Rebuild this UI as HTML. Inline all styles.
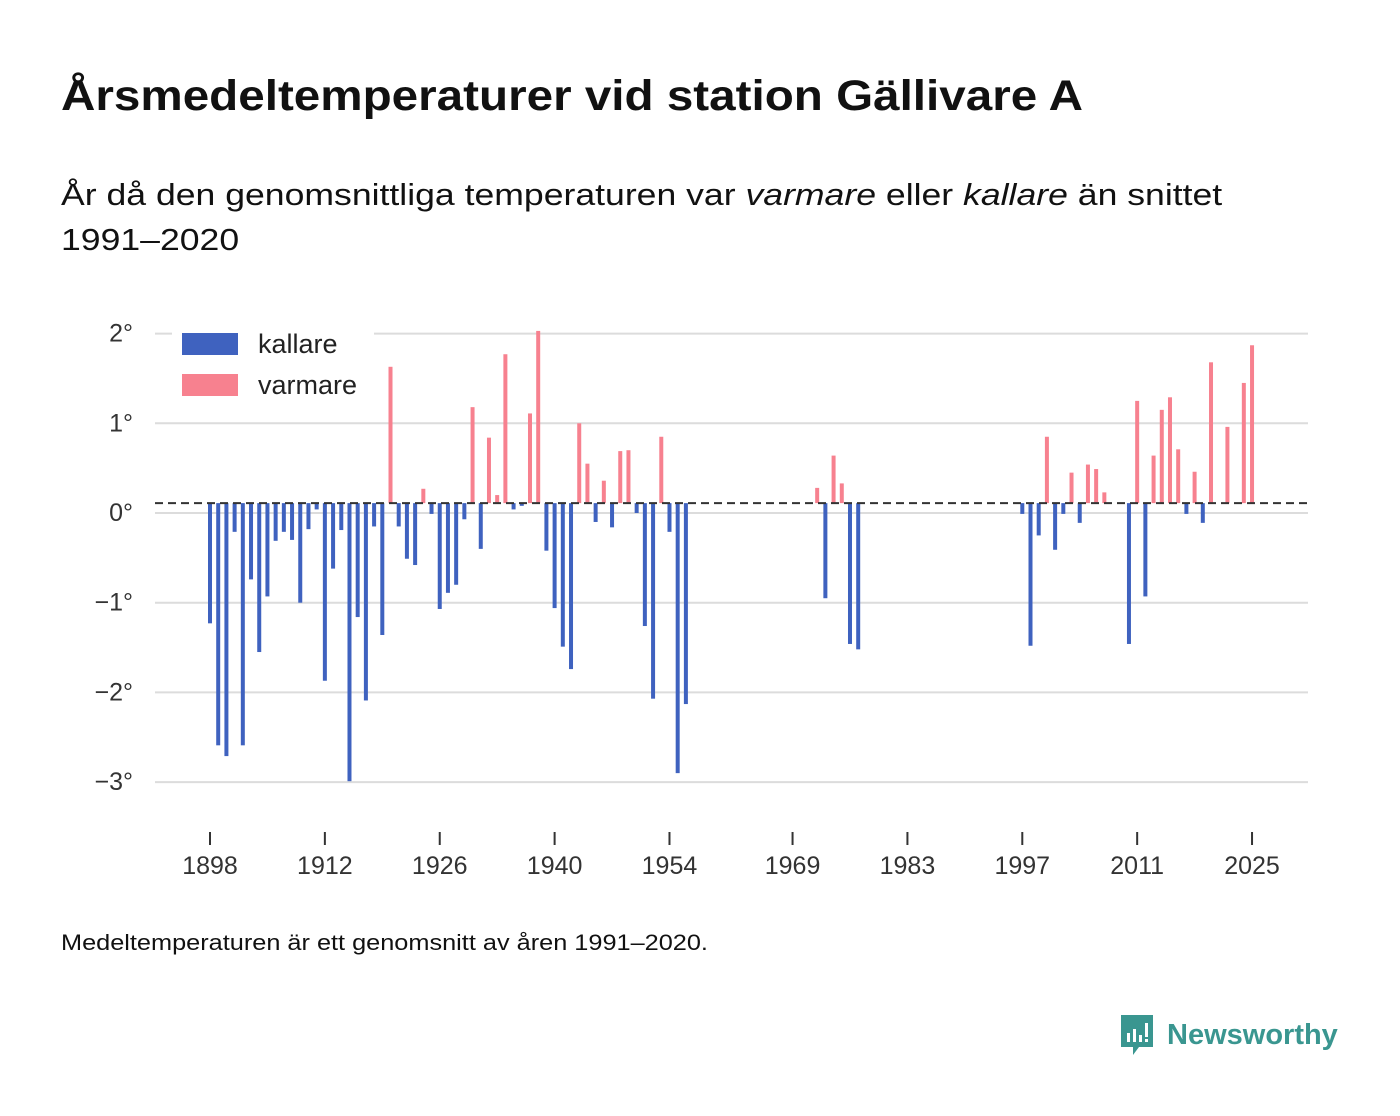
<!DOCTYPE html>
<html><head><meta charset="utf-8"><style>
body{margin:0;width:1400px;height:1116px;background:#fff;font-family:"Liberation Sans","DejaVu Sans",sans-serif;color:#111;position:relative;overflow:hidden}
.t{position:absolute;left:61px;white-space:nowrap;transform-origin:0 0}
</style></head><body>
<div class="t" style="top:72px;font-size:43px;font-weight:bold;transform:scaleX(1.107)">Årsmedeltemperaturer vid station Gällivare A</div>
<div class="t" style="top:172px;font-size:31px;line-height:45px;transform:scaleX(1.148)">År då den genomsnittliga temperaturen var <i>varmare</i> eller <i>kallare</i> än snittet<br>1991–2020</div>
<svg id="c" width="1400" height="900" style="position:absolute;left:0;top:0"></svg>
<div class="t" style="top:930px;font-size:22px;transform:scaleX(1.15)">Medeltemperaturen är ett genomsnitt av åren 1991–2020.</div>
<div style="position:absolute;left:1119px;top:1013px;display:flex;align-items:center">
<svg width="36" height="44"><path d="M2 2h32v32H20l-6 8v-8H2z" fill="#3a9690"/><rect x="8" y="20" width="3" height="9" fill="#fff"/><rect x="14" y="16" width="3" height="13" fill="#fff"/><rect x="20" y="22" width="3" height="7" fill="#fff"/><rect x="26" y="10" width="3" height="14" fill="#fff"/><rect x="26" y="26" width="3" height="3" fill="#fff"/></svg>
<span style="color:#3a9690;font-size:29px;font-weight:bold;margin-left:12px">Newsworthy</span></div>
<script>
const years=[1898,1899,1900,1901,1902,1903,1904,1905,1906,1907,1908,1909,1910,1911,1912,1913,1914,1915,1916,1917,1918,1919,1920,1921,1922,1923,1924,1925,1926,1927,1928,1929,1930,1931,1932,1933,1934,1935,1936,1937,1938,1939,1940,1941,1942,1943,1944,1945,1946,1947,1948,1949,1950,1951,1952,1953,1954,1955,1956,1972,1973,1974,1975,1976,1977,1997,1998,1999,2000,2001,2002,2003,2004,2005,2006,2007,2010,2011,2012,2013,2014,2015,2016,2017,2018,2019,2020,2022,2024,2025];
const values=[-1.23,-2.59,-2.71,-0.21,-2.59,-0.74,-1.55,-0.93,-0.31,-0.21,-0.30,-1.0,-0.18,0.04,-1.87,-0.62,-0.19,-2.99,-1.16,-2.09,-0.15,-1.36,1.63,-0.15,-0.51,-0.58,0.27,-0.01,-1.07,-0.89,-0.80,-0.07,1.18,-0.40,0.84,0.2,1.77,0.04,0.08,1.11,2.03,-0.42,-1.06,-1.49,-1.74,1.0,0.55,-0.1,0.36,-0.16,0.69,0.70,0.0,-1.26,-2.07,0.85,-0.21,-2.9,-2.13,0.28,-0.95,0.64,0.33,-1.46,-1.52,-0.01,-1.48,-0.25,0.85,-0.41,-0.01,0.45,-0.11,0.54,0.49,0.23,-1.46,1.25,-0.93,0.64,1.15,1.29,0.71,-0.01,0.46,-0.11,1.68,0.96,1.45,1.87];
const yTicks=[2,1,0,-1,-2,-3];
const yTickLabels=["2°","1°","0°","−1°","−2°","−3°"];
const xTicks=[1898,1912,1926,1940,1954,1969,1983,1997,2011,2025];
const baseline=0.11;
const NS="http://www.w3.org/2000/svg",svg=document.getElementById('c');
const X=y=>210+(y-1898)*8.205, Y=v=>513-v*89.7;
function mk(t,a,p){const e=document.createElementNS(NS,t);for(const k in a)e.setAttribute(k,a[k]);(p||svg).appendChild(e);return e;}
yTicks.forEach((v,i)=>{
 const g=mk('line',{x1:155,x2:1308,y1:Y(v),y2:Y(v),stroke:'#dcdcdc','stroke-width':2});
 
 
 const t=mk('text',{x:133,y:Y(v)+8,'text-anchor':'end','font-size':25,fill:'#333'});t.textContent=yTickLabels[i];
 
 
});
years.forEach((yr,i)=>{
 const v=values[i],y0=Y(baseline),y1=Y(v);
 const r=mk('rect',{x:X(yr)-2,y:Math.min(y0,y1),width:4,height:Math.abs(y1-y0),fill:v>=baseline?'#f7818f':'#3f62bf'});
 
 
});
const d=mk('line',{x1:155,x2:1308,y1:Y(baseline),y2:Y(baseline),stroke:'#333','stroke-width':2,'stroke-dasharray':'8,5'});


xTicks.forEach(yr=>{
 const l=mk('line',{x1:X(yr),x2:X(yr),y1:832,y2:845,stroke:'#333','stroke-width':2});
 
 
 const t=mk('text',{x:X(yr),y:874,'text-anchor':'middle','font-size':25,fill:'#333'});t.textContent=yr;
 
 
});
const lg=mk('g',{});


mk('rect',{x:172,y:322,width:202,height:84,fill:'#fff'},lg);
[['kallare','#3f62bf',333],['varmare','#f7818f',374]].forEach(([n,c,y])=>{
 const r=mk('rect',{x:182,y:y,width:56,height:22,fill:c},lg);
 
 
 const t=mk('text',{x:258,y:y+20,'font-size':27,fill:'#222'},lg);t.textContent=n;
 
 
});
</script>
</body></html>
